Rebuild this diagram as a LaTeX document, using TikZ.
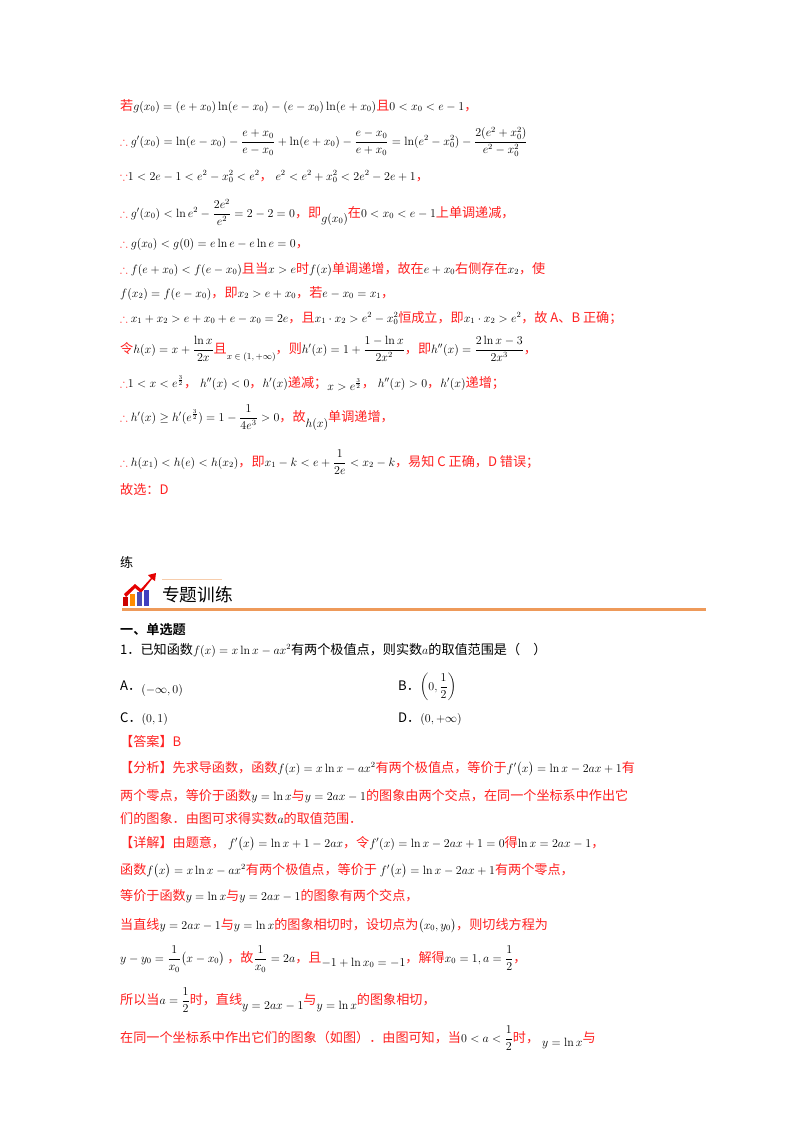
\documentclass[tikz,border=0pt]{standalone}
\usepackage{amsmath,amssymb}
\usepackage[no-math]{fontspec}
\setmainfont{Noto Sans CJK SC}[Scale=1.14]
\newfontfamily\bcjk{Noto Sans CJK SC}[Scale=1.14,BoldFont={Noto Sans CJK SC Bold}]
\definecolor{rd}{HTML}{FF2020}
\definecolor{org}{HTML}{EE9A5A}
\newcommand{\R}[1]{\textcolor{rd}{#1}}
\begin{document}
\begin{tikzpicture}[x=1pt,y=-1pt,
  ln/.style={anchor=base west,inner sep=0pt,font=\fontsize{11.5}{14}\selectfont}]
\useasboundingbox (0,0) rectangle (800,1132);
\fill[white] (0,0) rectangle (800,1132);
\node[ln] (l1) at (120,110) {\R{若}$g(x_0)=(e+x_0)\ln(e-x_0)-(e-x_0)\ln(e+x_0)$\R{且}$0<x_0<e-1$\R{，}};
\node[ln] (l2) at (120,145) {\R{$\therefore$} $g'(x_0)=\ln(e-x_0)-\dfrac{e+x_0}{e-x_0}+\ln(e+x_0)-\dfrac{e-x_0}{e+x_0}=\ln(e^2-x_0^2)-\dfrac{2(e^2+x_0^2)}{e^2-x_0^2}$};
\node[ln] (l3) at (120,180) {\R{$\because$}$1<2e-1<e^2-x_0^2<e^2$\R{，}\ $e^2<e^2+x_0^2<2e^2-2e+1$\R{，}};
\node[ln] (l4) at (120,217) {\R{$\therefore$} $g'(x_0)<\ln e^2-\dfrac{2e^2}{e^2}=2-2=0$\R{，即}\raisebox{-5pt}{$g(x_0)$}\R{在}$0<x_0<e-1$\R{上单调递减，}};
\node[ln] (l5) at (120,247) {\R{$\therefore$} $g(x_0)<g(0)=e\ln e-e\ln e=0$\R{，}};
\node[ln] (l6) at (120,273) {\R{$\therefore$} $f(e+x_0)<f(e-x_0)$\R{且当}$x>e$\R{时}$f(x)$\R{单调递增，故在}$e+x_0$\R{右侧存在}$x_2$\R{，使}};
\node[ln] (l7) at (120,297) {$f(x_2)=f(e-x_0)$\R{，即}$x_2>e+x_0$\R{，若}$e-x_0=x_1$\R{，}};
\node[ln] (l8) at (120,322) {\R{$\therefore$} $x_1+x_2>e+x_0+e-x_0=2e$\R{，且}$x_1\cdot x_2>e^2-x_0^2$\R{恒成立，即}$x_1\cdot x_2>e^2$\R{，故 A、B 正确；}};
\node[ln] (l9) at (120,353) {\R{令}$h(x)=x+\dfrac{\ln x}{2x}$\R{且}\raisebox{-6pt}{\small$x\in(1,+\infty)$}\R{，则}$h'(x)=1+\dfrac{1-\ln x}{2x^2}$\R{，即}$h''(x)=\dfrac{2\ln x-3}{2x^3}$\R{，}};
\node[ln] (l10) at (120,387) {\R{$\therefore$}$1<x<e^{\frac32}$\R{，}\ $h''(x)<0$\R{，}$h'(x)$\R{递减；}\raisebox{-3pt}{$x>e^{\frac32}$}\R{，}\ $h''(x)>0$\R{，}$h'(x)$\R{递增；}};
\node[ln] (l11) at (120,421) {\R{$\therefore$} $h'(x)\ge h'(e^{\frac32})=1-\dfrac{1}{4e^3}>0$\R{，故}\raisebox{-6pt}{$h(x)$}\R{单调递增，}};
\node[ln] (l12) at (120,466) {\R{$\therefore$} $h(x_1)<h(e)<h(x_2)$\R{，即}$x_1-k<e+\dfrac{1}{2e}<x_2-k$\R{，易知 C 正确，D 错误；}};
\node[ln] (l13) at (120,494) {\R{故选：D}};
\node[ln] (lian) at (120,567) {练};
% header
\fill[red!90!black] (124,594) -- (135,584) -- (141,589) -- (151,578) -- (148,575) -- (156,573) -- (155,581) -- (152,579) -- (141,593) -- (135,588) -- (126,597) -- cycle;
\fill[red!80!black] (123,597) rectangle (128,606);
\fill[orange!90!yellow] (130,594) rectangle (135,606);
\fill[gray!60!blue] (137,592) rectangle (142,606);
\fill[blue!50!gray] (144,590) rectangle (149,606);
\draw[org!50,line width=0.6pt] (162,579) -- (222,579);
\node[ln,font=\fontsize{15.5}{18}\selectfont] (hdr) at (162,601) {专题训练};
\draw[org,line width=3pt] (122,609) -- (706,609);
\node[ln,font=\bcjk\bfseries\fontsize{11.5}{14}\selectfont] (sec) at (120,634) {一、单选题};
\node[ln] (q1) at (120,654) {1．已知函数$f(x)=x\ln x-ax^2$有两个极值点，则实数$a$的取值范围是（\quad）};
\node[ln] (qa) at (120,690) {A．\raisebox{-3pt}{$(-\infty,0)$}};
\node[ln] (qb) at (398,690) {B．$\left(0,\dfrac12\right)$};
\node[ln] (qc) at (120,722) {C．$(0,1)$};
\node[ln] (qd) at (398,722) {D．$(0,+\infty)$};
\node[ln] (ans) at (120,746) {\R{【答案】B}};
\node[ln] (f1) at (120,772) {\R{【分析】先求导函数，函数}$f(x)=x\ln x-ax^2$\R{有两个极值点，等价于}$f'\bigl(x\bigr)=\ln x-2ax+1$\R{有}};
\node[ln] (f2) at (120,800) {\R{两个零点，等价于函数}$y=\ln x$\R{与}$y=2ax-1$\R{的图象由两个交点，在同一个坐标系中作出它}};
\node[ln] (f3) at (120,823) {\R{们的图象．由图可求得实数}$a$\R{的取值范围．}};
\node[ln] (x1) at (120,847) {\R{【详解】由题意，}\ $f'\bigl(x\bigr)=\ln x+1-2ax$\R{，令}$f'(x)=\ln x-2ax+1=0$\R{得}$\ln x=2ax-1$\R{，}};
\node[ln] (x2) at (120,874) {\R{函数}$f\bigl(x\bigr)=x\ln x-ax^2$\R{有两个极值点，等价于}\ $f'\bigl(x\bigr)=\ln x-2ax+1$\R{有两个零点，}};
\node[ln] (x3) at (120,900) {\R{等价于函数}$y=\ln x$\R{与}$y=2ax-1$\R{的图象有两个交点，}};
\node[ln] (x4) at (120,929) {\R{当直线}$y=2ax-1$\R{与}$y=\ln x$\R{的图象相切时，设切点为}$\bigl(x_0,y_0\bigr)$\R{，则切线方程为}};
\node[ln] (x5) at (120,962) {$y-y_0=\dfrac{1}{x_0}\bigl(x-x_0\bigr)$\ \R{，故}$\dfrac1{x_0}=2a$\R{，且}\raisebox{-4pt}{$-1+\ln x_0=-1$}\R{，解得}$x_0=1,a=\dfrac12$\R{，}};
\node[ln] (x6) at (120,1004) {\R{所以当}$a=\dfrac12$\R{时，直线}\raisebox{-5pt}{$y=2ax-1$}\R{与}\raisebox{-5pt}{$y=\ln x$}\R{的图象相切，}};
\node[ln] (x7) at (120,1042) {\R{在同一个坐标系中作出它们的图象（如图）．由图可知，当}$0<a<\dfrac12$\R{时，}\ \raisebox{-4pt}{$y=\ln x$}\R{与}};
\end{tikzpicture}
\end{document}
